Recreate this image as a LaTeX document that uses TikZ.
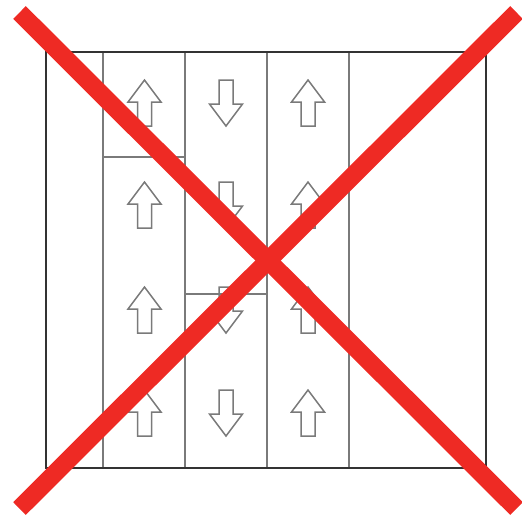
\documentclass[tikz,border=0pt]{standalone}
\usepackage{xcolor}
\usepackage{tikz}
\definecolor{framedark}{HTML}{333333}
\definecolor{stripgray}{HTML}{7A7A7A}
\definecolor{crossred}{HTML}{EE2A24}

\begin{document}
\begin{tikzpicture}[
  x=1pt, y=-1pt,
  frame/.style={draw=framedark, line width=1.6pt},
  strip/.style={draw=stripgray, line width=1.3pt},
  flowarrow/.style={draw=stripgray, line width=1.5pt, line join=miter},
  cross/.style={draw=crossred, line width=18pt, line cap=butt},
  uparrow/.pic={\path[flowarrow] (0,-23) -- (16.5,-1) -- (7,-1) -- (7,23) -- (-7,23) -- (-7,-1) -- (-16.5,-1) -- cycle;},
  downarrow/.pic={\path[flowarrow] (0,23) -- (16.5,1) -- (7,1) -- (7,-23) -- (-7,-23) -- (-7,1) -- (-16.5,1) -- cycle;},
]
  \useasboundingbox (0,0) rectangle (522,515);

  % strips
  \foreach \x in {103,185,267,349}
    \draw[strip] (\x,52) -- (\x,468);
  \draw[strip] (103,157) -- (185,157);
  \draw[strip] (185,294) -- (267,294);

  % outer frame
  \draw[frame] (46,52) rectangle (486,468);

  % flow arrows
  \foreach \y in {103,205,310,413} {
    \pic at (144.5,\y) {uparrow};
    \pic at (226,\y) {downarrow};
    \pic at (308,\y) {uparrow};
  }

  % crossed out
  \coordinate (tl) at (19.5,12.5);
  \coordinate (br) at (516.5,508.5);
  \coordinate (tr) at (516.5,12.5);
  \coordinate (bl) at (19.5,508.5);
  \draw[cross] (tl) -- (br);
  \draw[cross] (tr) -- (bl);
\end{tikzpicture}
\end{document}
